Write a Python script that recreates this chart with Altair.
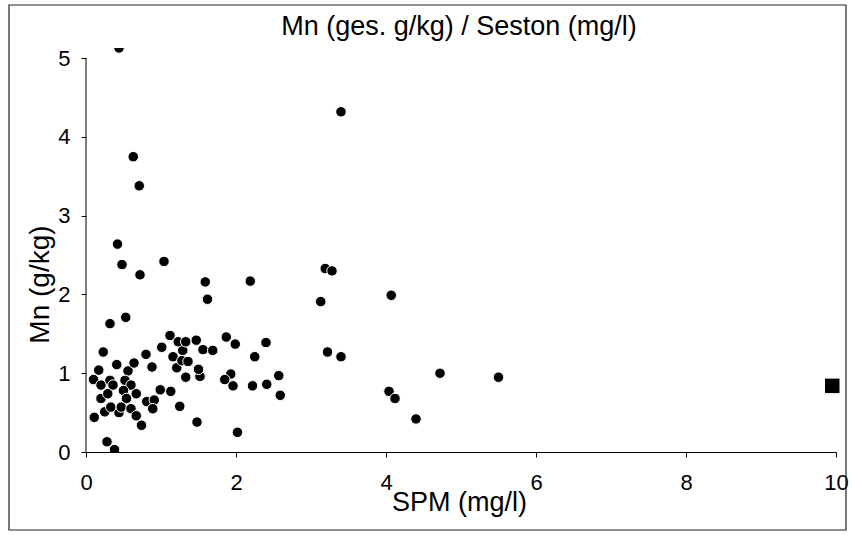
import altair as alt
import pandas as pd

# SPM (mg/l) and Mn (g/kg)
spm = [0.44, 3.40, 0.63, 0.71, 0.42, 0.48, 0.72, 1.04, 1.59, 1.62, 2.19, 3.19, 3.28, 3.13,
       0.32, 0.53, 4.07, 3.22, 3.40, 4.72, 5.50, 4.04, 4.12, 4.40,
       0.23, 0.17, 0.10, 0.20, 0.32, 0.36, 0.41, 0.56, 0.64, 0.52, 0.60, 0.50, 0.67, 0.20,
       0.29, 0.54, 0.25, 0.11, 0.44, 0.33, 0.47, 0.60, 0.67, 0.74, 0.28, 0.38, 0.80, 0.88,
       0.81, 0.91, 0.89, 0.99, 1.13, 1.01, 1.12, 1.16, 1.21, 1.29, 1.25, 1.23, 1.33, 1.47,
       1.56, 1.69, 1.87, 1.99, 1.28, 1.36, 1.33, 1.52, 1.50, 1.93, 1.85, 1.96, 2.22, 2.25,
       2.40, 2.41, 2.57, 2.59, 1.48, 2.02]
mn = [5.13, 4.32, 3.75, 3.38, 2.64, 2.38, 2.25, 2.42, 2.16, 1.94, 2.17, 2.33, 2.30, 1.91,
      1.63, 1.71, 1.99, 1.27, 1.21, 1.00, 0.95, 0.77, 0.68, 0.42,
      1.27, 1.04, 0.92, 0.85, 0.91, 0.85, 1.11, 1.03, 1.13, 0.91, 0.85, 0.78, 0.74, 0.68,
      0.74, 0.68, 0.51, 0.44, 0.50, 0.57, 0.57, 0.55, 0.46, 0.34, 0.13, 0.03, 1.24, 1.08,
      0.64, 0.66, 0.55, 0.79, 0.77, 1.33, 1.48, 1.21, 1.07, 1.29, 0.58, 1.40, 1.40, 1.42,
      1.30, 1.29, 1.46, 1.37, 1.16, 1.15, 0.95, 0.96, 1.05, 0.99, 0.92, 0.84, 0.84, 1.21,
      1.39, 0.86, 0.97, 0.72, 0.38, 0.25]

# the single square marker
ref_spm = [9.95]
ref_mn = [0.84]

x_ticks = [0, 2, 4, 6, 8, 10]
y_ticks = [0, 1, 2, 3, 4, 5]
y_axis_range = [0, 5]

title_text = "Mn (ges. g/kg) / Seston (mg/l)"
x_title = "SPM  (mg/l)"
y_title = "Mn  (g/kg)"

FONT = "Liberation Sans"

df = pd.DataFrame({"SPM": spm, "Mn": mn})
sq = pd.DataFrame({"SPM": ref_spm, "Mn": ref_mn})
yr = pd.DataFrame({"lo": [y_axis_range[0]], "hi": [y_axis_range[1]]})

x_scale = alt.Scale(domain=[0, 10], nice=False, zero=False)
y_scale = alt.Scale(domain=[0, 5.13], nice=False, zero=False)

x_axis = alt.Axis(values=x_ticks, format="d", title=x_title, labelFontSize=22, labelPadding=15,
                  labelFlush=False, tickSize=5, titleFontSize=27, titleFontWeight="normal",
                  titleX=373, titleY=58, titleBaseline="alphabetic", titleAlign="center")
y_axis = alt.Axis(values=y_ticks, format="d", title=y_title, domain=False, labelFontSize=22,
                  labelPadding=11, labelFlush=False, tickSize=5, titleFontSize=28,
                  titleFontWeight="normal", titleX=-38, titleY=236,
                  titleBaseline="alphabetic", titleAlign="center", titleAngle=270)

points = alt.Chart(df).mark_point(
    filled=True, shape="circle", size=110, fill="black", stroke="white",
    strokeWidth=1, opacity=1, clip=True
).encode(
    x=alt.X("SPM:Q", scale=x_scale, axis=x_axis),
    y=alt.Y("Mn:Q", scale=y_scale, axis=y_axis),
)

square = alt.Chart(sq).mark_point(
    filled=True, shape="square", size=210, fill="black", opacity=1
).encode(
    x=alt.X("SPM:Q", scale=x_scale, axis=x_axis),
    y=alt.Y("Mn:Q", scale=y_scale, axis=y_axis),
)

y_line = alt.Chart(yr).mark_rule(color="black", strokeWidth=1).encode(
    x=alt.value(0),
    y=alt.Y("lo:Q", scale=y_scale, axis=y_axis),
    y2="hi:Q",
)

frame = alt.Chart(alt.Data(values=[{}])).mark_rect(
    filled=False, stroke="#222222", strokeWidth=1.2, clip=False
).encode(
    x=alt.value(-77), x2=alt.value(760), y=alt.value(-43), y2=alt.value(482)
)

title = alt.Chart(alt.Data(values=[{}])).mark_text(
    text=title_text, font=FONT, fontSize=27, baseline="alphabetic", align="center",
    color="black"
).encode(x=alt.value(373), y=alt.value(-13))

chart = alt.layer(points, square, y_line, frame, title).properties(
    width=750, height=404,
    autosize=alt.AutoSizeParams(type="none"),
    padding={"left": 86, "top": 48, "right": 16, "bottom": 83},
    background="white",
).configure_axis(
    grid=False, labelFont=FONT, titleFont=FONT, labelColor="black", titleColor="black",
    tickColor="black", domainColor="black", domainWidth=1, tickWidth=1
).configure_view(stroke=None)

chart.save("out.html", embed_options={"renderer": "svg", "actions": False})
